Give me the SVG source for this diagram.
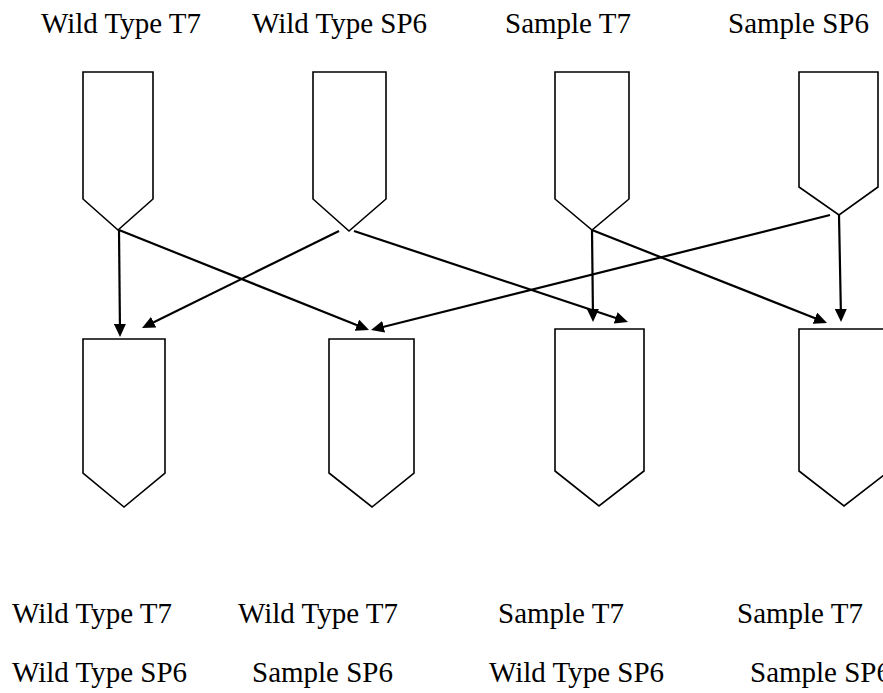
<svg xmlns="http://www.w3.org/2000/svg" width="883" height="693" viewBox="0 0 883 693">
  <style>
    .lbl { font-family: "Liberation Serif", "Times New Roman", serif; font-size: 29px; fill: #000; }
    .tube { fill: #fff; stroke: #000; stroke-width: 1.6; stroke-linejoin: miter; }
    .link { stroke: #000; stroke-width: 2.2; fill: none; marker-end: url(#head); }
  </style>
  <defs>
    <marker id="head" markerUnits="userSpaceOnUse" markerWidth="14" markerHeight="12" refX="9" refY="6" orient="auto">
      <path d="M0,0 L13,6 L0,12 z" fill="#000"/>
    </marker>
  </defs>

  <rect width="883" height="693" fill="#fff"/>

  <!-- source labels -->
  <g id="source-labels">
    <text class="lbl" x="41" y="33">Wild Type T7</text>
    <text class="lbl" x="252" y="33">Wild Type SP6</text>
    <text class="lbl" x="505" y="33">Sample T7</text>
    <text class="lbl" x="728" y="33">Sample SP6</text>
  </g>

  <!-- source tubes -->
  <g id="src-wt-t7"><polygon class="tube" points="83,72 153,72 153,199 118,230 83,199"/></g>
  <g id="src-wt-sp6"><polygon class="tube" points="313,72 386,72 386,199 349,231 313,199"/></g>
  <g id="src-s-t7"><polygon class="tube" points="555,72 629,72 629,199 592,230 555,199"/></g>
  <g id="src-s-sp6"><polygon class="tube" points="799,72 878,72 878,187 839,215 799,187"/></g>

  <!-- mixed tubes -->
  <g id="mix-1"><polygon class="tube" points="83,339 165,339 165,473 124,507 83,473"/></g>
  <g id="mix-2"><polygon class="tube" points="329,339 414,339 414,473 372,507 329,473"/></g>
  <g id="mix-3"><polygon class="tube" points="555,329 644,329 644,471 599,506 555,471"/></g>
  <g id="mix-4"><polygon class="tube" points="799,329 889,329 889,471 844,506 799,471"/></g>

  <!-- connectors -->
  <g id="connectors">
    <line class="link" x1="119" y1="230" x2="120" y2="333"/>
    <line class="link" x1="119" y1="230" x2="365.3" y2="328.5"/>
    <line class="link" x1="339" y1="231" x2="145.6" y2="326.2"/>
    <line class="link" x1="354" y1="231" x2="624.2" y2="320.7"/>
    <line class="link" x1="830" y1="215" x2="374.9" y2="329"/>
    <line class="link" x1="592" y1="230" x2="593" y2="318"/>
    <line class="link" x1="592" y1="230" x2="823.3" y2="321.5"/>
    <line class="link" x1="839" y1="215" x2="841" y2="318"/>
  </g>

  <!-- mix labels -->
  <g id="mix-labels">
    <text class="lbl" x="12" y="623">Wild Type T7</text>
    <text class="lbl" x="238" y="623">Wild Type T7</text>
    <text class="lbl" x="498" y="623">Sample T7</text>
    <text class="lbl" x="737" y="623">Sample T7</text>
    <text class="lbl" x="12" y="682">Wild Type SP6</text>
    <text class="lbl" x="252" y="682">Sample SP6</text>
    <text class="lbl" x="489" y="682">Wild Type SP6</text>
    <text class="lbl" x="750" y="682">Sample SP6</text>
  </g>
</svg>
